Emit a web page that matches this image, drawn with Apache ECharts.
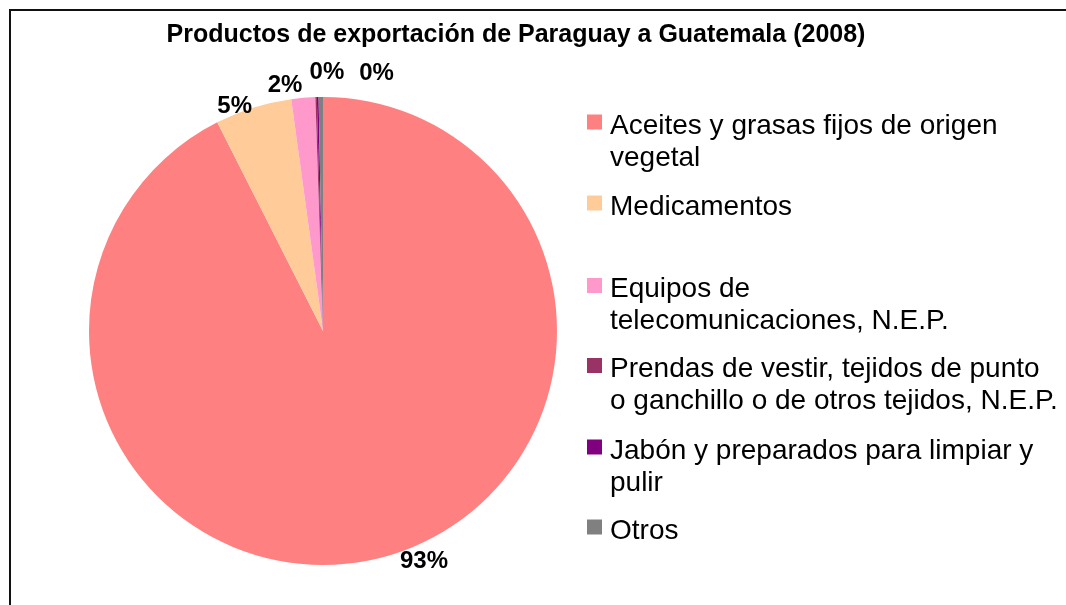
<!DOCTYPE html>
<html><head><meta charset="utf-8">
<script src="https://cdn.jsdelivr.net/npm/echarts@6/dist/echarts.min.js"></script>
<style>html,body{margin:0;padding:0;background:#fff}#c{width:1066px;height:605px}</style>
</head><body><div id="c"></div>
<script>
const titleText = 'Productos de exportación de Paraguay a Guatemala (2008)';
const categories = [
  'Aceites y grasas fijos de origen\nvegetal',
  'Medicamentos',
  'Equipos de\ntelecomunicaciones, N.E.P.',
  'Prendas de vestir, tejidos de punto\no ganchillo o de otros tejidos, N.E.P.',
  'Jabón y preparados para limpiar y\npulir',
  'Otros'
];
const values = [92.6, 5.3, 1.65, 0.1, 0.12, 0.3];
const colors = ['#FF8080', '#FFCC99', '#FF99CC', '#993366', '#800080', '#808080'];
const showLabel = [true, true, true, false, true, true];

// layout constants
const font = 'Liberation Sans, Arial, sans-serif';
const CX = 323, CY = 331, R = 234, LABEL_R = 254;
const legendIconCenters = [122, 203, 285.5, 365.5, 447, 527];
const labelNudge = [[42, -17], [-12.6, 17.5], [-16.6, 7.8], [0, 0], [9.7, -5], [56, -4]];
const LINE_H = 32, TEXT_DROP = 4;

// mid angles (clockwise from 12 o'clock) of each slice
const total = values.reduce((a, b) => a + b, 0);
const midAngles = [];
let acc = 0;
values.forEach(v => { midAngles.push((acc + v / 2) / total * 2 * Math.PI); acc += v; });

const legends = categories.map((name, i) => {
  const n = name.split('\n').length;
  // spacer line so the icon sits beside the first text line, slightly above its centre
  const spacer = (n - 1) * LINE_H + 2 * TEXT_DROP;
  const h = spacer + n * LINE_H;
  return {
    orient: 'vertical',
    left: 587,
    top: legendIconCenters[i] - h / 2,
    padding: 0,
    itemWidth: 15,
    itemHeight: 15,
    icon: 'rect',
    data: [{ name: name }],
    formatter: nm => '{s| }\n' + nm,
    textStyle: {
      fontFamily: font, fontSize: 28, color: '#000', lineHeight: LINE_H,
      padding: [0, 0, 0, 3],
      rich: { s: { lineHeight: spacer, fontSize: 2 } }
    }
  };
});

const chart = echarts.init(document.getElementById('c'), null, { renderer: 'canvas' });
chart.setOption({
  backgroundColor: '#fff',
  animation: false,
  color: colors,
  title: {
    text: titleText, left: 511, top: 18, textAlign: 'center',
    textStyle: { fontFamily: font, fontSize: 25, fontWeight: 'bold', color: '#000' }
  },
  legend: legends,
  graphic: [{
    type: 'polyline', shape: { points: [[10, 610], [10, 10], [1070, 10]] },
    style: { fill: 'none', stroke: '#111', lineWidth: 2 }, silent: true
  }],
  series: [{
    type: 'pie',
    center: [CX, CY],
    radius: [0, R],
    startAngle: 90,
    clockwise: true,
    percentPrecision: 0,
    avoidLabelOverlap: false,
    label: {
      show: true, position: 'outside', formatter: '{d}%',
      fontFamily: font, fontSize: 24, fontWeight: 'bold', color: '#000'
    },
    labelLine: { show: false, length: 20, length2: 0 },
    labelLayout: function (p) {
      const i = p.dataIndex;
      const a = midAngles[i];
      return {
        x: CX + LABEL_R * Math.sin(a) + labelNudge[i][0],
        y: CY - LABEL_R * Math.cos(a) + labelNudge[i][1],
        align: 'center', verticalAlign: 'middle'
      };
    },
    itemStyle: { borderWidth: 0 },
    data: categories.map((name, i) => ({
      name: name, value: values[i],
      label: { show: showLabel[i] }
    }))
  }]
});
</script></body></html>
